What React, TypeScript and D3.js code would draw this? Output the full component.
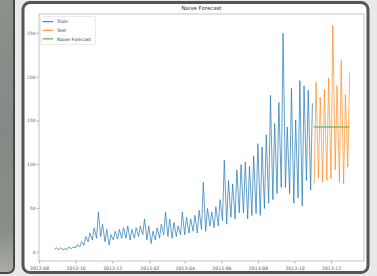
import React from "react";
import * as d3 from "d3";

// Weekly peaks (weekday highs) and troughs (weekend lows)
const trainStart = "2012-08-25";
const trainPeaks = [5, 5, 4, 6, 6, 9, 12, 18, 22, 28, 46, 32, 26, 20, 24, 26, 28, 30, 26, 28, 30, 38, 30, 24, 28, 32, 46, 38, 34, 30, 46, 40, 38, 42, 48, 80, 50, 46, 52, 60, 105, 82, 78, 94, 100, 103, 98, 110, 124, 120, 134, 179, 147, 171, 250, 143, 187, 151, 196, 190, 185, 170];
const trainTroughs = [3, 3, 3, 3, 4, 5, 6, 8, 12, 14, 16, 18, 12, 8, 14, 15, 16, 16, 14, 16, 18, 20, 14, 10, 14, 16, 20, 18, 16, 18, 20, 20, 22, 24, 22, 26, 24, 30, 28, 30, 36, 32, 40, 38, 45, 45, 38, 42, 44, 42, 50, 56, 60, 67, 74, 74, 67, 56, 62, 53, 82, 71];
const testStart = "2013-11-01";
const testPeaks = [194, 177, 186, 199, 259, 190, 219, 180, 205];
const testTroughs = [78, 85, 80, 82, 84, 94, 80, 78, 97];
const naiveValue = 143;
const naiveStart = "2013-11-01";
const naiveEnd = "2013-12-31";
const yTicks = [0, 50, 100, 150, 200, 250];
const xTickLabels = ["2012-08", "2012-10", "2012-12", "2013-02", "2013-04", "2013-06", "2013-08", "2013-10", "2013-12"];
const legendLabels = ["Train", "Test", "Naive Forecast"];

const parse = d3.timeParse("%Y-%m-%d");
const parseMonth = d3.timeParse("%Y-%m");

type Pt = { date: Date; value: number };

function weekly(start: string, peaks: number[], troughs: number[]): Pt[] {
  const s = parse(start) as Date;
  const out: Pt[] = [];
  peaks.forEach((p, i) => {
    out.push({ date: d3.timeDay.offset(s, 7 * i + 1), value: troughs[i] });
    out.push({ date: d3.timeDay.offset(s, 7 * i + 4), value: p });
  });
  return out;
}

const train = weekly(trainStart, trainPeaks, trainTroughs);
const test = weekly(testStart, testPeaks, testTroughs);
const naive: Pt[] = [
  { date: parse(naiveStart) as Date, value: naiveValue },
  { date: parse(naiveEnd) as Date, value: naiveValue },
];

export default function App() {
  const W = 377;
  const H = 276;
  const L = 39, R = 364, T = 14, B = 261;

  const x = d3
    .scaleTime()
    .domain([parse("2012-07-31") as Date, parse("2014-01-24") as Date])
    .range([L, R]);
  const y = d3.scaleLinear().domain([-10, 272]).range([B, T]);

  const line = d3
    .line<Pt>()
    .x((d) => x(d.date))
    .y((d) => y(d.value));

  const font = "DejaVu Sans, sans-serif";
  const colors = ["#1f77b4", "#ff7f0e", "#2ca02c"];

  return (
    <svg
      width={W}
      height={H}
      style={{ position: "absolute", left: 0, top: 0, background: "#e9e9e9" }}
    >
      <defs>
        <linearGradient id="lg" x1="0" y1="0" x2="0" y2="1">
          <stop offset="0" stopColor="#8d918c" />
          <stop offset="0.5" stopColor="#858985" />
          <stop offset="0.85" stopColor="#8a8e88" />
          <stop offset="1" stopColor="#a9ada6" />
        </linearGradient>
      </defs>
      {/* left neighbouring card */}
      <rect x={-20} y={-10} width={34} height={283} rx={6} fill="url(#lg)" stroke="#4a4a4a" strokeWidth={2} />
      {/* main card frame */}
      <rect x={23} y={2.5} width={345} height={270} rx={7} fill="#ffffff" stroke="#555555" strokeWidth={3} />

      {/* title */}
      <text x={(L + R) / 2} y={9.8} textAnchor="middle" fontFamily={font} fontSize={5.4} fill="#333">
        Naive Forecast
      </text>

      {/* lines */}
      <path d={line(train) || ""} fill="none" stroke={colors[0]} strokeWidth={0.9} strokeOpacity={0.78} strokeLinejoin="round" />
      <path d={line(test) || ""} fill="none" stroke={colors[1]} strokeWidth={0.9} strokeOpacity={0.7} strokeLinejoin="round" />
      <path d={line(naive) || ""} fill="none" stroke={colors[2]} strokeWidth={1} strokeOpacity={0.85} />

      {/* axes frame */}
      <rect x={L} y={T} width={R - L} height={B - T} fill="none" stroke="#b5b5b5" strokeWidth={0.8} />

      {/* y ticks */}
      {yTicks.map((t) => (
        <g key={t}>
          <line x1={L - 2.5} x2={L} y1={y(t)} y2={y(t)} stroke="#888" strokeWidth={0.6} />
          <text x={L - 3.5} y={y(t) + 1.6} textAnchor="end" fontFamily={font} fontSize={4.4} fill="#555">
            {t}
          </text>
        </g>
      ))}

      {/* x ticks */}
      {xTickLabels.map((t) => {
        const xv = x(parseMonth(t) as Date);
        return (
          <g key={t}>
            <line x1={xv} x2={xv} y1={B} y2={B + 2.5} stroke="#888" strokeWidth={0.6} />
            <text x={xv} y={269.5} textAnchor="middle" fontFamily={font} fontSize={4.6} fill="#555">
              {t}
            </text>
          </g>
        );
      })}

      {/* legend */}
      <rect x={40.5} y={16.5} width={55} height={28} rx={1.5} fill="#fff" fillOpacity={0.8} stroke="#dddddd" strokeWidth={0.6} />
      {legendLabels.map((lab, i) => (
        <g key={lab}>
          <line x1={42.5} x2={53} y1={21.7 + i * 8.6} y2={21.7 + i * 8.6} stroke={colors[i]} strokeWidth={1} />
          <text x={57} y={23.3 + i * 8.6} fontFamily={font} fontSize={4.6} fill="#333">
            {lab}
          </text>
        </g>
      ))}
    </svg>
  );
}
